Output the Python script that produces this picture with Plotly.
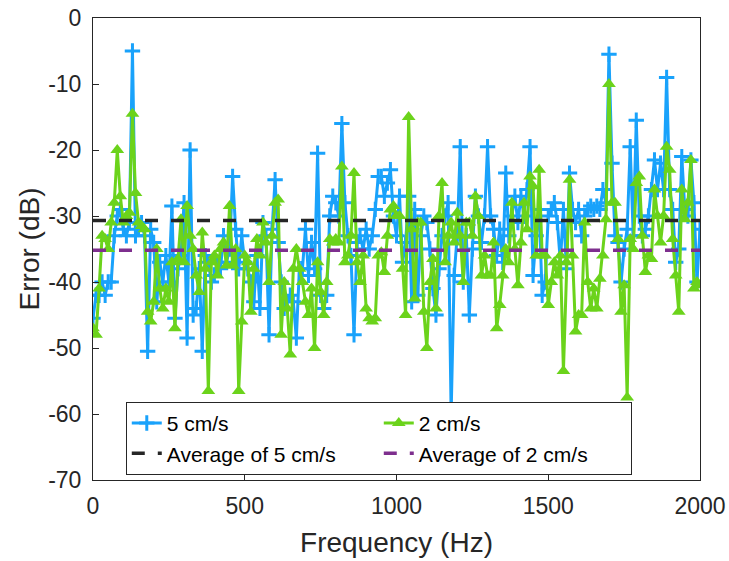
import plotly.graph_objects as go

freq = list(range(0, 2001, 10))

err_5cms = [
    -45.5, -42, -42, -40, -42, -40, -40, -33, -30, -29,
    -32, -33, -31, -5, -33, -32, -31, -33, -50.5, -32,
    -34, -43, -37, -40, -36, -40, -28.5, -45.5, -38, -36,
    -28, -48.5, -20, -45, -44, -38, -50.5, -36, -37, -40,
    -39, -37, -38, -33, -37, -35, -24, -32, -38, -33,
    -37, -38, -40, -43, -36, -44, -31, -33, -48, -32,
    -24.5, -34, -40, -44, -43, -42, -43, -48.5, -38, -38,
    -32, -39, -34, -38, -20.5, -42, -44, -42, -30, -27,
    -28, -30, -16, -28, -33, -36, -48, -34, -33, -35,
    -32, -35, -33, -29, -24, -24, -27, -25, -23, -30,
    -33, -27, -37, -34, -27, -43, -29, -42, -33, -30,
    -31, -35, -41, -45, -38, -33, -30, -28, -60, -39,
    -33, -19.5, -40, -33, -45, -35, -27, -30, -34, -30,
    -19.5, -30, -32, -36, -32, -37, -23.5, -33, -30, -27,
    -31, -27, -30, -26, -19.5, -39, -33, -29, -42, -40,
    -30, -29, -28, -31, -37, -29, -38, -23.5, -29, -31,
    -29, -33, -30, -29, -28.5, -29, -28.5, -29, -26, -28,
    -5.5, -22, -33, -34, -40, -35, -32, -19.5, -33, -15.5,
    -30, -33, -32, -30, -26, -21.5, -26, -22, -26, -9,
    -26, -29, -37, -35, -21, -29, -30, -21.5, -28, -40,
    -32,
]

err_2cms = [
    -47, -48, -41, -33, -33.5, -35, -31, -28, -20, -27,
    -31, -30, -29.5, -14.5, -26.5, -31, -31.5, -32, -44.5, -46,
    -43, -35, -41, -44, -41, -43, -37, -47, -36.5, -30.5,
    -37, -28.5, -33, -35, -39, -41.5, -32.5, -38, -56.5, -37,
    -36, -39, -35, -34, -37.5, -28.5, -37.5, -35, -56.5, -46,
    -36, -37, -44.5, -38, -33.5, -36, -31, -34, -40, -33,
    -28, -27.5, -48, -40, -44, -51, -38, -35, -38, -40,
    -43, -45, -41, -50, -37, -41.5, -45, -40, -33.5, -34,
    -33.5, -34, -22.5, -37, -36, -33, -23.5, -37, -40, -36,
    -44, -45.5, -46, -45.5, -36, -35.5, -38.5, -33, -29, -28.5,
    -30, -30, -38, -45, -15, -32, -42.5, -31, -31, -44.5,
    -50, -40, -36.5, -44, -30, -25, -37, -33, -31, -34,
    -29.5, -33, -40, -31, -31, -33, -27, -30, -39, -36,
    -39, -39, -34, -47, -43.5, -39, -35, -37, -28, -35,
    -40.5, -34, -28, -32, -24, -25.5, -36, -23, -36, -36,
    -43.5, -40, -37, -39, -36, -53.5, -37, -24.5, -36, -47.5,
    -45, -45, -31, -40, -44, -41, -44, -39.5, -36, -30.5,
    -10, -28, -28, -33.5, -44.5, -40.5, -57.5, -33.5, -35, -25,
    -24, -33, -38.5, -36, -36.5, -26, -30, -34, -30, -19.5,
    -23, -33.5, -39, -44.5, -26, -30.5, -28, -21.5, -41, -40,
    -40.5,
]

avg_5cms = -30.7
avg_2cms = -35.2

x_ticks = [0, 500, 1000, 1500, 2000]
x_tick_labels = ["0", "500", "1000", "1500", "2000"]
y_ticks = [0, -10, -20, -30, -40, -50, -60, -70]
y_tick_labels = ["0", "-10", "-20", "-30", "-40", "-50", "-60", "-70"]

BLUE = "#19a2fb"
GREEN = "#6bd31b"
DARK = "#262626"
PURPLE = "#7e2f8e"
FONT = "Liberation Sans, Arial, sans-serif"

fig = go.Figure()
fig.add_trace(go.Scatter(
    x=freq, y=err_5cms, mode="lines+markers", name="5 cm/s",
    line=dict(color=BLUE, width=3),
    marker=dict(symbol="cross-thin", size=11, line=dict(color=BLUE, width=3)),
))
fig.add_trace(go.Scatter(
    x=freq, y=err_2cms, mode="lines+markers", name="2 cm/s",
    line=dict(color=GREEN, width=3),
    marker=dict(symbol="triangle-up", size=12, color=GREEN),
))
fig.add_trace(go.Scatter(
    x=[freq[0], freq[-1]], y=[avg_5cms, avg_5cms], mode="lines",
    name="Average of 5 cm/s",
    line=dict(color=DARK, width=3.5, dash="13px,13px"),
))
fig.add_trace(go.Scatter(
    x=[freq[0], freq[-1]], y=[avg_2cms, avg_2cms], mode="lines",
    name="Average of 2 cm/s",
    line=dict(color=PURPLE, width=3.5, dash="13px,13px"),
))

axis_common = dict(
    showline=True, mirror=True, linecolor=DARK, linewidth=1,
    ticks="inside", ticklen=6, tickcolor=DARK, tickwidth=1,
    showgrid=False, zeroline=False, automargin=False,
    tickfont=dict(family=FONT, size=23, color=DARK),
    title_font=dict(family=FONT, size=28, color=DARK),
)

fig.update_layout(
    width=729, height=561,
    margin=dict(l=93, r=29, t=18, b=81),
    paper_bgcolor="white", plot_bgcolor="white",
    font=dict(family=FONT, color=DARK),
    xaxis=dict(range=[0, 2000], tickvals=x_ticks, ticktext=x_tick_labels,
               ticklabelstandoff=5,
               title_text="Frequency (Hz)", title_standoff=14, **axis_common),
    yaxis=dict(range=[-70, 0], tickvals=y_ticks, ticktext=y_tick_labels,
               ticklabelstandoff=6,
               title_text="Error (dB)", title_standoff=0, **axis_common),
    legend=dict(
        orientation="h", x=0.054, y=0.169, xanchor="left", yanchor="top",
        bgcolor="white", bordercolor=DARK, borderwidth=1,
        font=dict(family=FONT, size=21, color="black"),
        entrywidth=207, tracegroupgap=0,
    ),
)

fig.write_html("out.html")
